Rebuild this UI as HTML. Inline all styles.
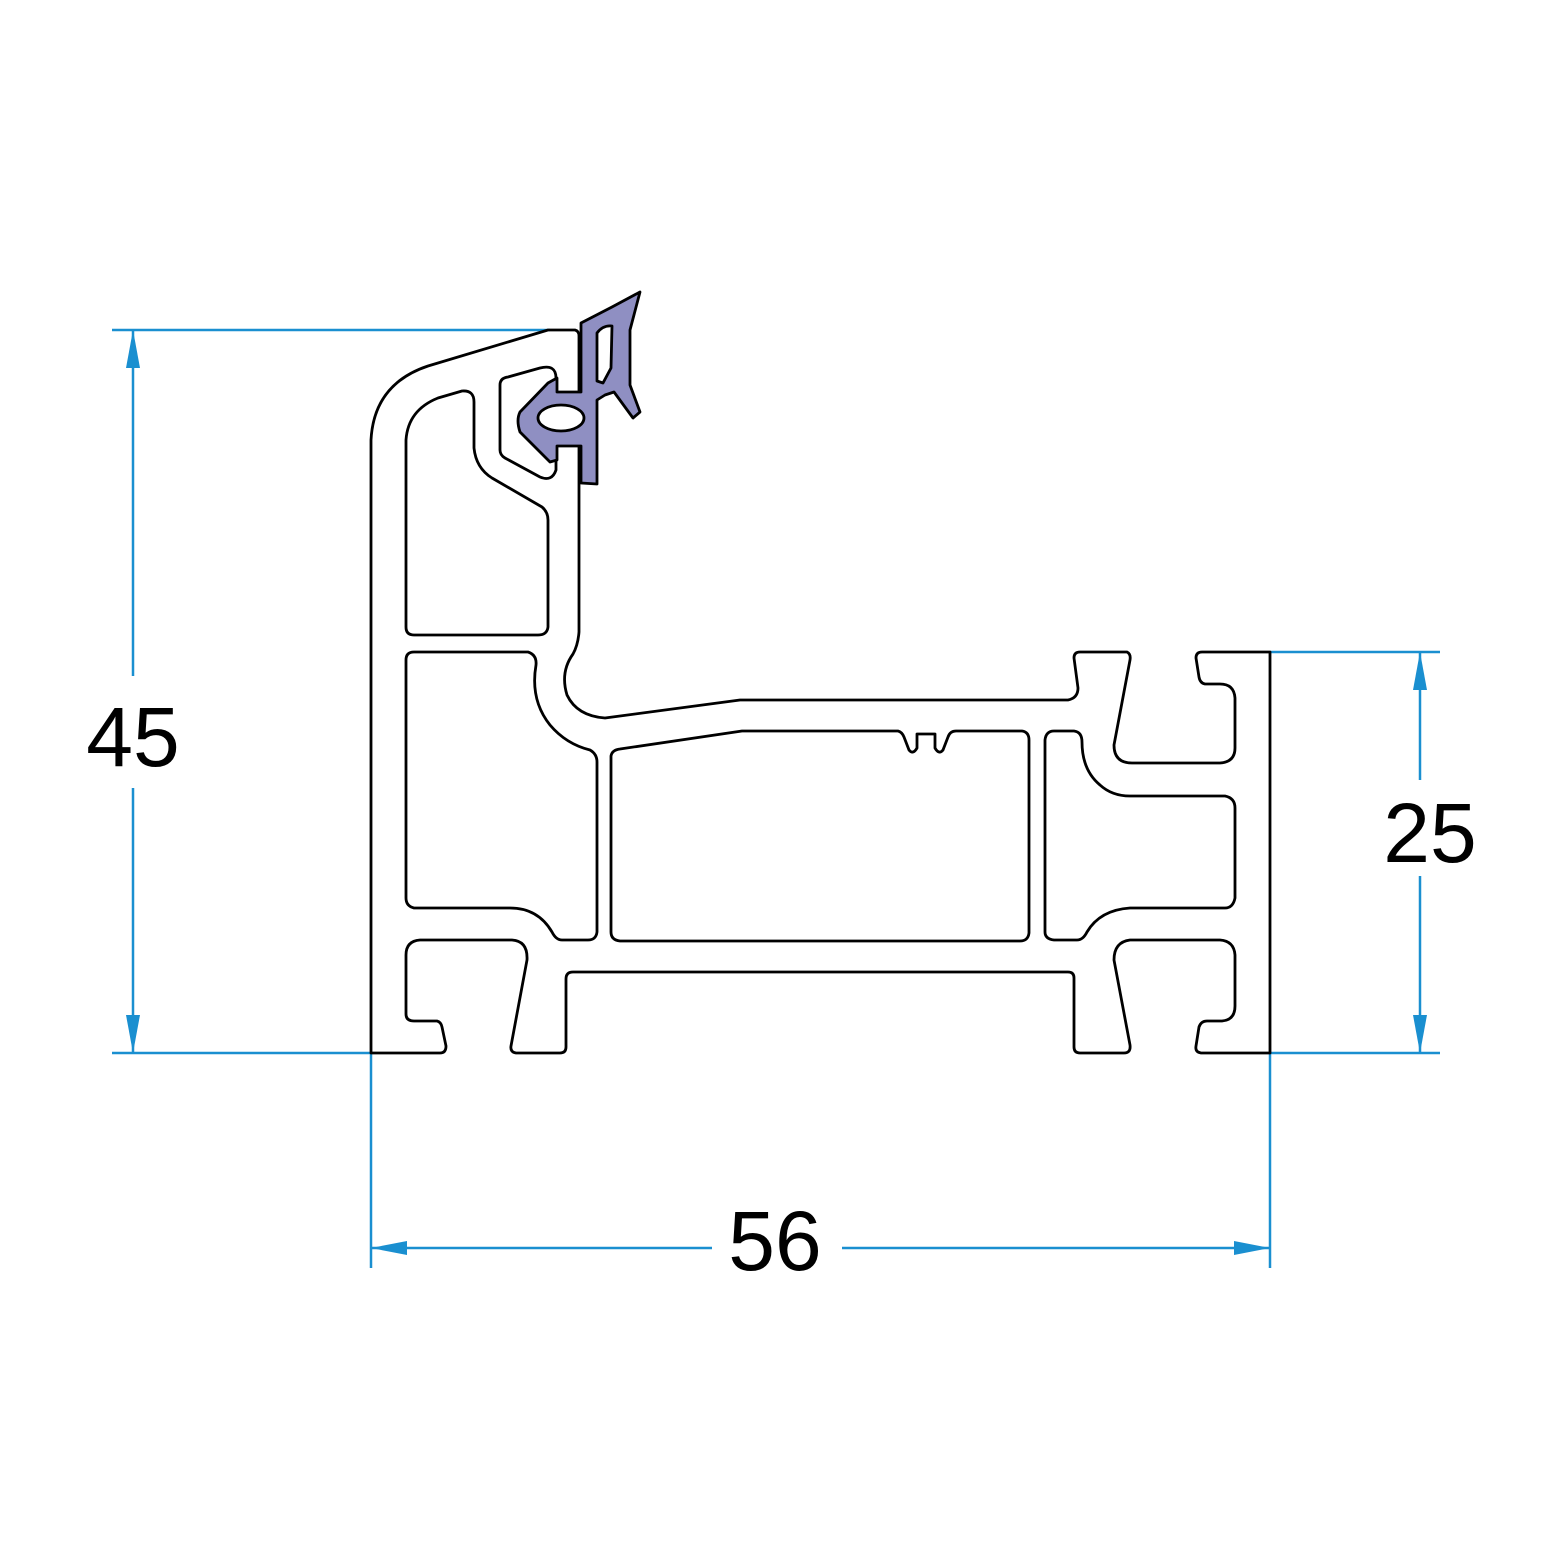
<!DOCTYPE html>
<html><head><style>html,body{margin:0;padding:0;background:#fff}svg{display:block}</style></head><body>
<svg width="1563" height="1563" viewBox="0 0 1563 1563" xmlns="http://www.w3.org/2000/svg">
<g fill="none" stroke="#1a8fd0" stroke-width="2.5">
<line x1="112" y1="330" x2="550" y2="330"/>
<line x1="112" y1="1053" x2="371" y2="1053"/>
<line x1="133" y1="330" x2="133" y2="676"/>
<line x1="133" y1="788" x2="133" y2="1053"/>
<line x1="1270" y1="652" x2="1440" y2="652"/>
<line x1="1270" y1="1053" x2="1440" y2="1053"/>
<line x1="1420" y1="652" x2="1420" y2="780"/>
<line x1="1420" y1="876" x2="1420" y2="1053"/>
<line x1="371" y1="1053" x2="371" y2="1268"/>
<line x1="1270" y1="1053" x2="1270" y2="1268"/>
<line x1="371" y1="1248" x2="712" y2="1248"/>
<line x1="842" y1="1248" x2="1270" y2="1248"/>
</g>
<g fill="#1a8fd0">
<polygon points="133,330 126,368 140,368"/>
<polygon points="133,1053 126,1015 140,1015"/>
<polygon points="1420,652 1413,690 1427,690"/>
<polygon points="1420,1053 1413,1015 1427,1015"/>
<polygon points="371,1248 407,1241 407,1255"/>
<polygon points="1270,1248 1234,1241 1234,1255"/>
</g>
<g font-family="Liberation Sans, sans-serif" font-size="84" fill="#000" text-anchor="middle">
<text x="133" y="766">45</text>
<text x="1430" y="862">25</text>
<text x="775" y="1270">56</text>
</g>
<g fill="none" stroke="#000" stroke-width="2.8" stroke-linejoin="round">
<path d="M371,1053 L371,440 Q374,384 428,366 L548,330 L575,330 Q579,331 579,336 L579,632 Q578,645 573,654 Q560,672 567,695 Q577,716 605,718 L740,700 L1068,700 Q1078,698 1078,688 L1074,658 Q1074,652 1080,652 L1127,652 Q1131,654 1130,660 L1114,745 Q1114,763 1132,763 L1220,763 Q1235,762 1235,748 L1235,698 Q1234,684 1220,684 L1205,684 Q1200,683 1199,677 L1196,658 Q1196,652 1202,652 L1270,652 L1270,1053 L1201,1053 Q1195,1052 1196,1046 L1199,1027 Q1201,1021 1207,1021 L1222,1021 Q1235,1020 1235,1006 L1235,955 Q1234,941 1220,940 L1130,940 Q1114,942 1114,960 L1130,1045 Q1131,1053 1124,1053 L1080,1053 Q1074,1053 1074,1047 L1074,978 Q1074,972 1068,972 L573,972 Q566,972 566,979 L566,1047 Q566,1053 560,1053 L516,1053 Q510,1052 511,1046 L527,960 Q528,941 512,940 L420,940 Q406,941 406,955 L406,1014 Q406,1021 414,1021 L437,1021 Q441,1022 442,1027 L446,1046 Q446,1053 440,1053 Z"/>
<path d="M406,627 L406,440 Q408,410 438,398 L462,391 Q474,390 474,402 L474,448 Q476,468 492,478 L542,507 Q548,512 548,520 L548,627 Q547,635 538,635 L414,635 Q406,635 406,627 Z"/>
<path d="M500,385 Q500,378 508,377 L540,368 Q556,364 556,378 L556,470 Q552,482 540,477 L505,458 Q500,455 500,450 Z"/>
<path d="M406,660 Q406,652 414,652 L528,652 Q537,655 536,665 Q530,700 550,725 Q566,744 590,750 Q597,754 597,762 L597,932 Q596,940 588,940 L562,940 Q556,940 552,932 Q538,908 510,908 L414,908 Q406,906 406,898 Z"/>
<path d="M611,756 Q612,750 620,749 L742,731 L898,731 Q902,732 904,737 L909,750 Q913,755 917,748 L917,734 L935,734 L935,748 Q939,755 943,750 L948,737 Q950,731 956,731 L1022,731 Q1029,732 1029,740 L1029,933 Q1028,941 1020,941 L620,941 Q611,940 611,932 Z"/>
<path d="M1045,740 Q1046,731 1054,731 L1074,731 Q1082,732 1082,742 Q1082,770 1100,785 Q1112,796 1130,796 L1225,796 Q1235,798 1235,808 L1235,898 Q1233,908 1225,908 L1130,908 Q1100,910 1087,932 Q1083,940 1077,940 L1054,940 Q1045,939 1045,932 Z"/>
</g>
<g stroke="#000" stroke-width="2.8" stroke-linejoin="round">
<path fill="#8f8fc2" d="M581,323 L612,307 L640,292 L630,330 L630,385 L640,412 L633,418 L614,392 L605,395 L597,400 L597,484 L581,483 L581,446 L557,446 L557,460 L550,462 L520,432 Q516,420 520,412 L548,383 L557,378 L557,392 L581,392 Z"/>
<ellipse cx="561" cy="418" rx="23" ry="13" fill="#fff"/>
<path fill="#fff" d="M597,333 Q603,325 612,326 L611,368 L603,383 L597,381 Z"/>
</g>
</svg>
</body></html>
